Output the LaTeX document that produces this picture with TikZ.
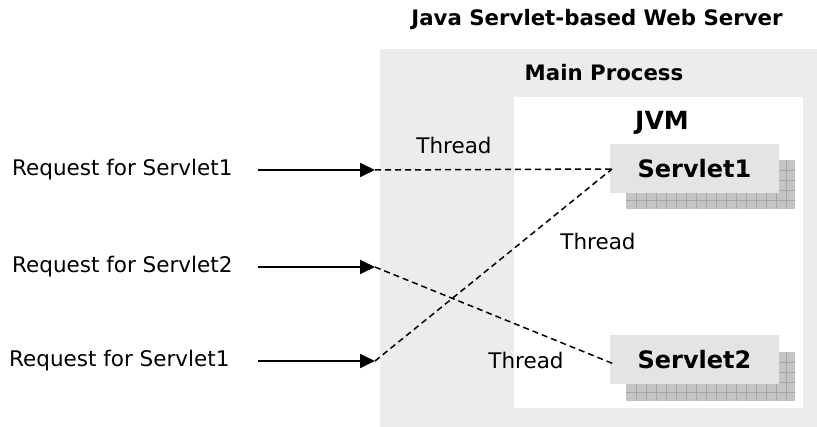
\documentclass[tikz,border=0pt]{standalone}
\usepackage{fontspec}
\setmainfont{DejaVu Sans}
\usetikzlibrary{arrows.meta}
\definecolor{outerg}{HTML}{ECECEC}
\definecolor{boxg}{HTML}{E4E4E4}
\definecolor{shadg}{HTML}{C4C4C4}
\definecolor{gridg}{HTML}{A4A4A4}
\tikzset{
  reqlabel/.style={anchor=west, inner sep=0pt, font=\fontsize{21.5}{25}\selectfont},
  thrlabel/.style={inner sep=0pt, font=\fontsize{21.5}{25}\selectfont},
  titlelabel/.style={inner sep=0pt, font=\bfseries\fontsize{21.3}{25}\selectfont},
  jvmlabel/.style={inner sep=0pt, font=\bfseries\fontsize{25}{30}\selectfont},
  servbox/.style={fill=boxg, draw=none, minimum width=169pt, minimum height=49pt, inner sep=0pt, font=\bfseries\fontsize{24}{29}\selectfont},
  reqarrow/.style={line width=1.8pt, -{Triangle[length=15pt,width=14pt]}},
  thread/.style={line width=1.5pt, dash pattern=on 6pt off 4pt},
}
\begin{document}
\begin{tikzpicture}[x=1pt,y=-1pt]
\useasboundingbox (0,0) rectangle (817,427);
% outer gray and JVM white areas
\fill[outerg] (380,49) rectangle (817,427);
\fill[white] (514,97) rectangle (803,408);
\node[titlelabel] (title) at (597,20) {Java Servlet-based Web Server};
\node[titlelabel] (mainp) at (604,73) {Main Process};
\node[jvmlabel] (jvm) at (662,123) {JVM};
% shadows with grid
\foreach \yy in {160,352}{
  \fill[shadg] (626,\yy) rectangle (795,\yy+49);
  \foreach \gx in {636,646,...,790}{
    \draw[gridg, line width=0.7pt] (\gx,\yy) -- (\gx,\yy+49);
  }
  \foreach \gy in {10,20,...,40}{
    \draw[gridg, line width=0.7pt] (626,\yy+\gy) -- (795,\yy+\gy);
  }
}
\node[servbox] (s1) at (694.5,168.5) {Servlet1};
\node[servbox] (s2) at (694.5,360) {Servlet2};
% requests
\node[reqlabel] (r1) at (12,170) {Request for Servlet1};
\node[reqlabel] (r2) at (12,267) {Request for Servlet2};
\node[reqlabel] (r3) at (9,361) {Request for Servlet1};
\coordinate (t1) at (375,170);
\coordinate (t2) at (375,267);
\coordinate (t3) at (375,361);
\draw[reqarrow] ([xshift=25pt]r1.east) -- (t1);
\draw[reqarrow] ([xshift=25pt]r2.east) -- (t2);
\draw[reqarrow] ([xshift=28pt]r3.east) -- (t3);
% threads
\coordinate (s1in) at (612,169);
\coordinate (s2in) at (614,364);
\draw[thread] (t1) -- (s1in);
\draw[thread] (t3) -- (s1in);
\draw[thread] (t2) -- (s2in);
\node[thrlabel] (th1) at (454,145) {Thread};
\node[thrlabel] (th2) at (598,241) {Thread};
\node[thrlabel] (th3) at (526,360) {Thread};
\end{tikzpicture}
\end{document}
